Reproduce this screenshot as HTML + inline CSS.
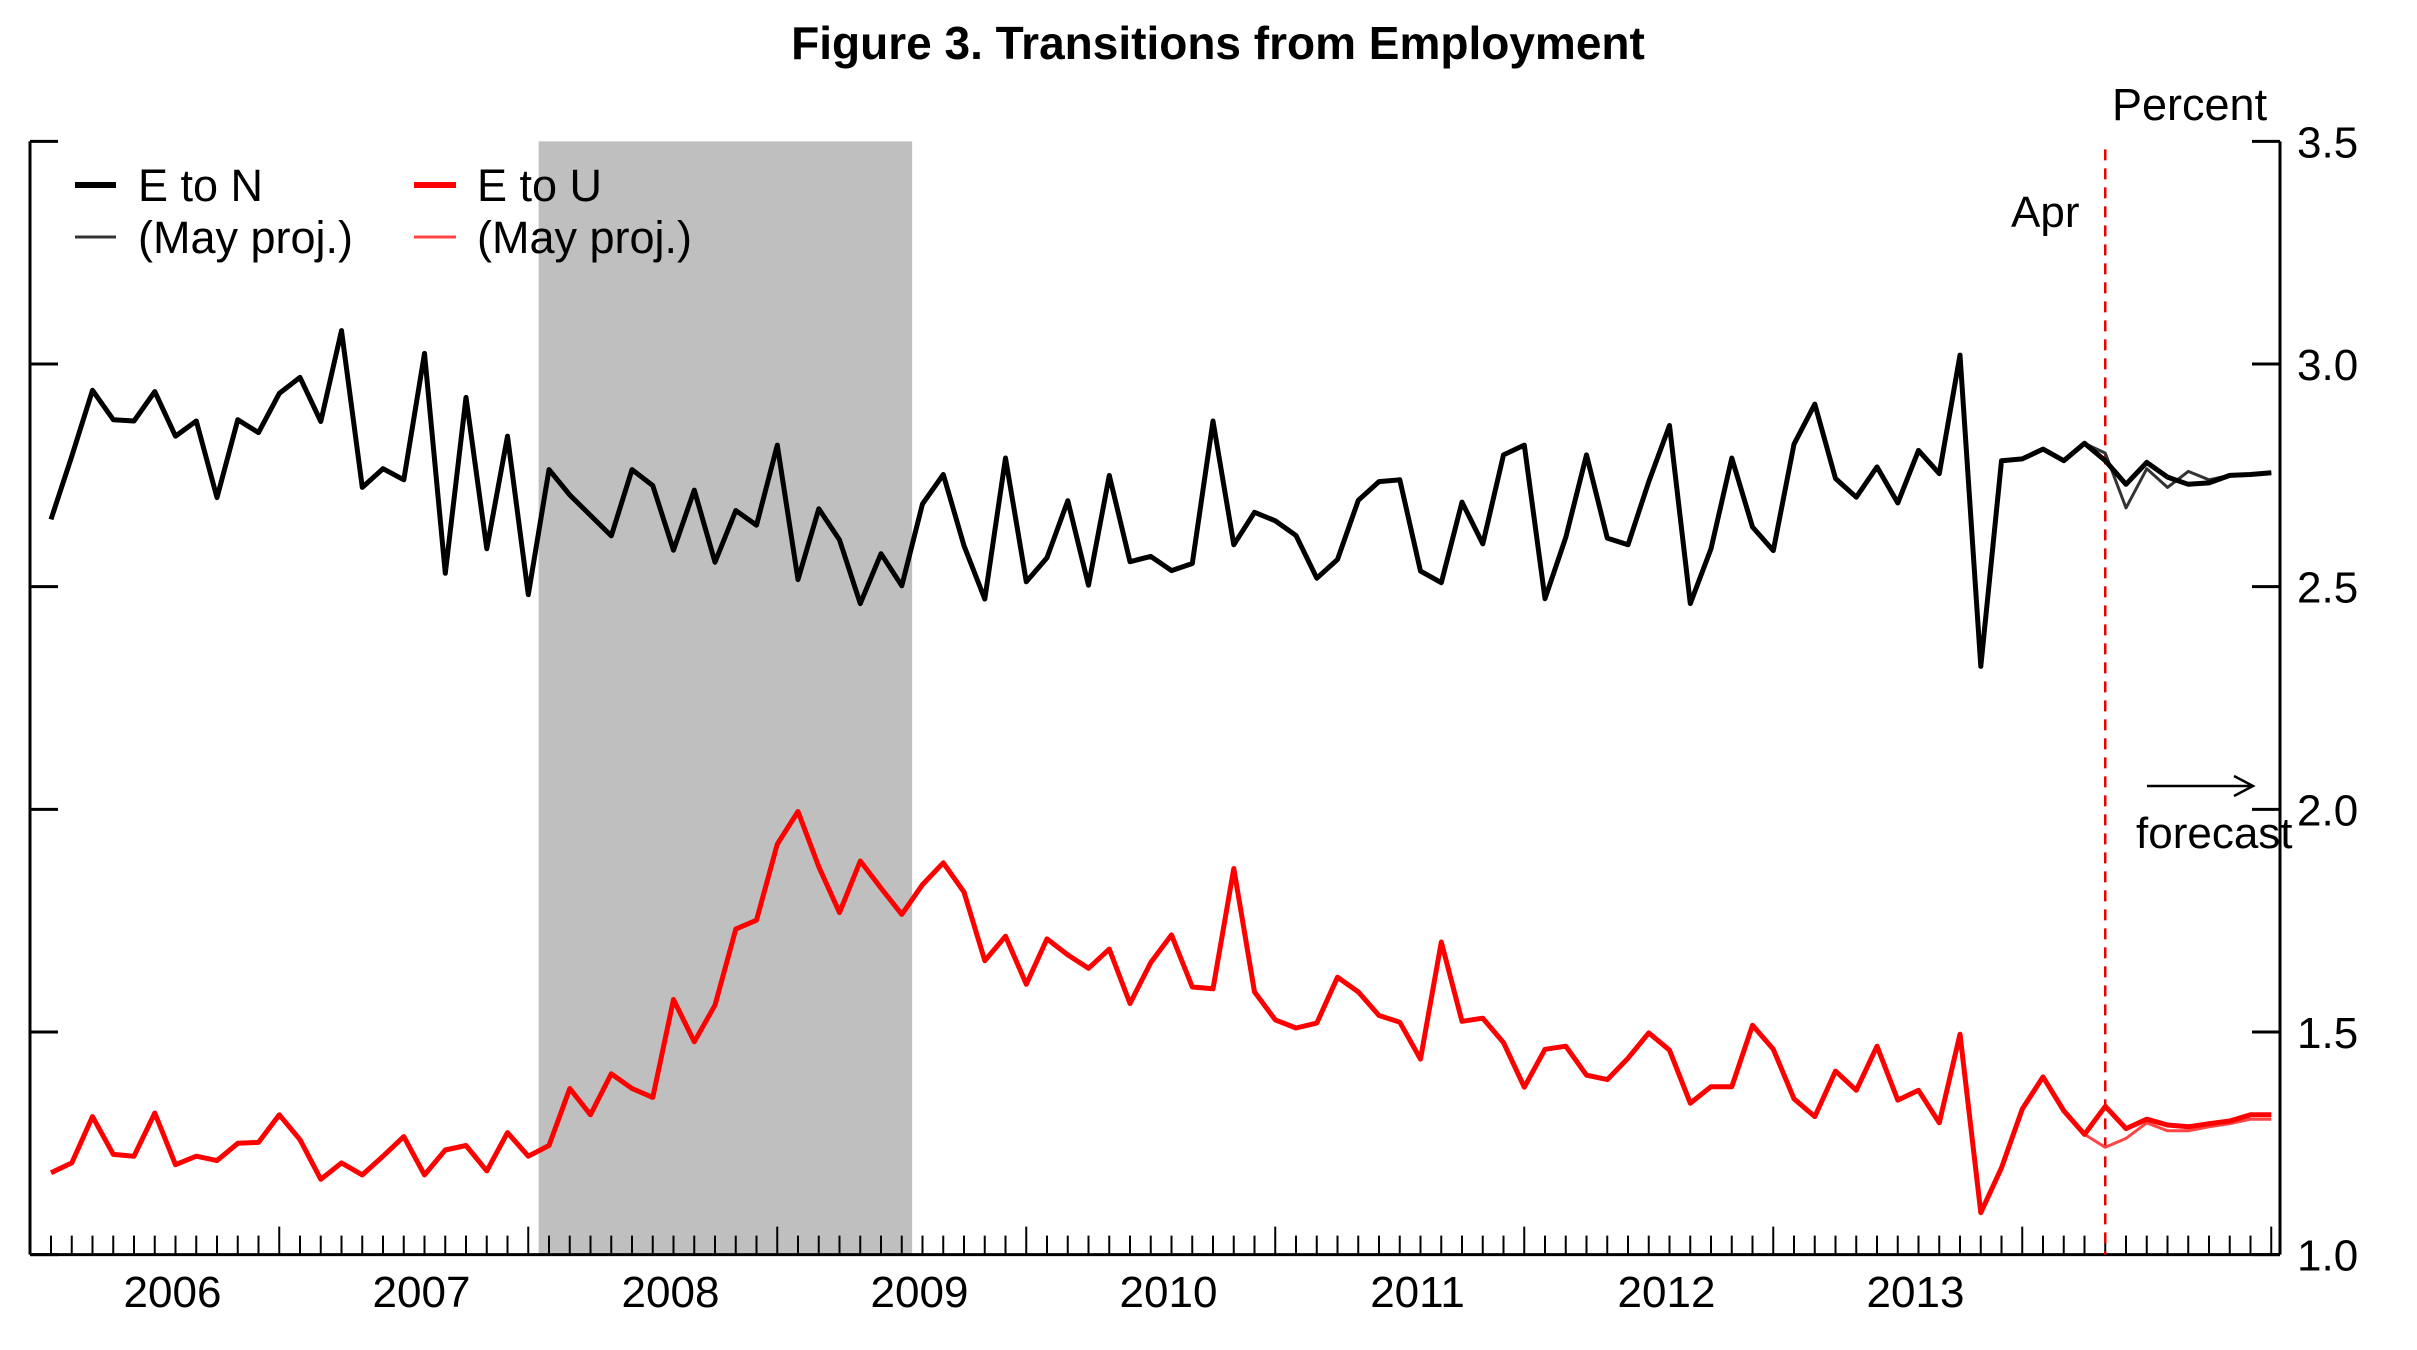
<!DOCTYPE html>
<html><head><meta charset="utf-8"><style>
html,body{margin:0;padding:0;background:#fff;}
svg{display:block;font-family:"Liberation Sans",Arial,sans-serif;}
</style></head><body>
<svg id="chart" width="2417" height="1350" viewBox="0 0 2417 1350" xmlns="http://www.w3.org/2000/svg">
<text x="1218" y="59" text-anchor="middle" font-size="46" font-weight="bold">Figure 3. Transitions from Employment</text>
<g id="shade"></g>
<g id="axes"></g>
<g id="series"></g>
<g>
<line x1="75" y1="185" x2="116" y2="185" stroke="#000" stroke-width="6"/>
<text x="138" y="201" font-size="45">E to N</text>
<line x1="75" y1="237" x2="116" y2="237" stroke="#333" stroke-width="3"/>
<text x="138" y="253" font-size="45">(May proj.)</text>
<line x1="414" y1="185" x2="456" y2="185" stroke="#f00" stroke-width="6"/>
<text x="477" y="201" font-size="45">E to U</text>
<line x1="414" y1="237" x2="456" y2="237" stroke="#f44" stroke-width="3"/>
<text x="477" y="253" font-size="45">(May proj.)</text>
</g>
<text x="2112" y="120" font-size="45">Percent</text>
<text x="2011" y="227" font-size="44">Apr</text>
<line x1="2147" y1="786" x2="2253" y2="786" stroke="#000" stroke-width="2.5"/>
<polyline points="2234,776 2253,786 2234,796" fill="none" stroke="#000" stroke-width="2.5"/>
<text x="2136" y="848" font-size="44">forecast</text>
</svg>
<script>
const startIndex = 0;
const eToN = [2.651,2.793,2.941,2.875,2.872,2.938,2.838,2.872,2.700,2.875,2.846,2.934,2.970,2.871,3.075,2.723,2.765,2.740,3.024,2.530,2.925,2.585,2.838,2.482,2.763,2.706,2.660,2.614,2.763,2.727,2.582,2.717,2.555,2.671,2.638,2.818,2.516,2.675,2.605,2.462,2.574,2.502,2.686,2.752,2.592,2.472,2.789,2.511,2.565,2.693,2.503,2.750,2.556,2.568,2.536,2.552,2.872,2.594,2.667,2.648,2.615,2.519,2.561,2.694,2.736,2.740,2.535,2.509,2.690,2.596,2.796,2.818,2.473,2.611,2.796,2.609,2.594,2.736,2.862,2.462,2.585,2.789,2.634,2.581,2.820,2.910,2.743,2.701,2.769,2.688,2.806,2.754,3.020,2.321,2.783,2.787,2.809,2.783,2.822,2.783,2.730,2.779,2.746,2.730,2.733,2.750,2.752,2.756];
const eToU = [1.184,1.206,1.310,1.225,1.221,1.318,1.202,1.221,1.211,1.250,1.252,1.314,1.258,1.169,1.206,1.179,1.221,1.265,1.179,1.235,1.245,1.188,1.274,1.221,1.245,1.373,1.314,1.406,1.373,1.353,1.573,1.478,1.560,1.731,1.751,1.922,1.995,1.871,1.768,1.884,1.823,1.764,1.831,1.880,1.814,1.660,1.715,1.607,1.709,1.673,1.643,1.686,1.564,1.656,1.718,1.601,1.597,1.867,1.590,1.527,1.509,1.520,1.623,1.590,1.537,1.522,1.439,1.702,1.524,1.531,1.476,1.376,1.461,1.468,1.403,1.393,1.441,1.498,1.459,1.340,1.377,1.377,1.515,1.461,1.350,1.310,1.412,1.369,1.468,1.347,1.369,1.296,1.495,1.094,1.195,1.327,1.399,1.323,1.270,1.333,1.283,1.304,1.291,1.287,1.294,1.300,1.314,1.314];
const projStart = 98;
const eToNProj = [2.822,2.800,2.677,2.765,2.723,2.759,2.740,2.750,2.752,2.756];
const eToUProj = [1.270,1.241,1.261,1.296,1.278,1.278,1.287,1.294,1.304,1.304];
const yTicks = [1.0,1.5,2.0,2.5,3.0,3.5];
const yTickLabels = ["1.0","1.5","2.0","2.5","3.0","3.5"];
const years = ["2006","2007","2008","2009","2010","2011","2012","2013"];
const recession = [23.5, 41.5];
const aprIndex = 99;

const NS = "http://www.w3.org/2000/svg";
const X0 = 51, DX = 20.75, LEFT = 30, RIGHT = 2280, TOP = 141.4, BOTTOM = 1254.6;
const YMIN = 1.0, YMAX = 3.5;
function xs(i){ return X0 + DX * i; }
function ys(v){ return BOTTOM - (v - YMIN) / (YMAX - YMIN) * (BOTTOM - TOP); }
function mk(tag, attrs, parent){ const e = document.createElementNS(NS, tag); for (const k in attrs) e.setAttribute(k, attrs[k]); parent.appendChild(e); return e; }

const shadeG = document.getElementById('shade');
const sh = mk('rect', {x: xs(recession[0]), y: TOP, width: xs(recession[1]) - xs(recession[0]), height: BOTTOM - TOP, fill: '#bfbfbf'}, shadeG);



const ax = document.getElementById('axes');
const la = mk('line', {x1: LEFT, y1: TOP, x2: LEFT, y2: BOTTOM, stroke: '#000', 'stroke-width': 3}, ax);


const ra = mk('line', {x1: RIGHT, y1: TOP, x2: RIGHT, y2: BOTTOM, stroke: '#000', 'stroke-width': 3}, ax);


const ba = mk('line', {x1: LEFT, y1: BOTTOM, x2: RIGHT, y2: BOTTOM, stroke: '#000', 'stroke-width': 3}, ax);



yTicks.forEach((v, k) => {
  const y = ys(v);
  const t1 = mk('line', {x1: LEFT, y1: y, x2: LEFT + 28, y2: y, stroke: '#000', 'stroke-width': 3}, ax);
  
  
  const t2 = mk('line', {x1: RIGHT - 28, y1: y, x2: RIGHT, y2: y, stroke: '#000', 'stroke-width': 3}, ax);
  
  
  const tl = mk('text', {x: 2297, y: y + 16, 'font-size': 44}, ax);
  tl.textContent = yTickLabels[k];
  
  
});

const nMonths = eToN.length;
for (let i = 0; i < nMonths; i++) {
  const major = (i % 12) === 11;
  const t = mk('line', {x1: xs(i), y1: BOTTOM, x2: xs(i), y2: BOTTOM - (major ? 28 : 19), stroke: '#000', 'stroke-width': 2}, ax);
  
  
}
years.forEach((yr, k) => {
  const tl = mk('text', {x: xs(6 + 12 * k) - 3, y: 1307, 'font-size': 44, 'text-anchor': 'middle'}, ax);
  tl.textContent = yr;
  
  
});

const dl = mk('line', {x1: xs(aprIndex), y1: TOP + 8, x2: xs(aprIndex), y2: BOTTOM, stroke: '#e00', 'stroke-width': 2.5, 'stroke-dasharray': '11 8'}, ax);



const sg = document.getElementById('series');
function pts(arr, off){ return arr.map((v, i) => xs(i + off).toFixed(1) + ',' + ys(v).toFixed(1)).join(' '); }
const pnp = mk('polyline', {points: pts(eToNProj, projStart), fill: 'none', stroke: '#333', 'stroke-width': 3, 'stroke-linejoin': 'round'}, sg);


const pup = mk('polyline', {points: pts(eToUProj, projStart), fill: 'none', stroke: '#f44', 'stroke-width': 3, 'stroke-linejoin': 'round'}, sg);


const pn = mk('polyline', {points: pts(eToN, startIndex), fill: 'none', stroke: '#000', 'stroke-width': 5, 'stroke-linejoin': 'round'}, sg);


const pu = mk('polyline', {points: pts(eToU, startIndex), fill: 'none', stroke: '#f00', 'stroke-width': 5, 'stroke-linejoin': 'round'}, sg);


</script>
</body></html>
